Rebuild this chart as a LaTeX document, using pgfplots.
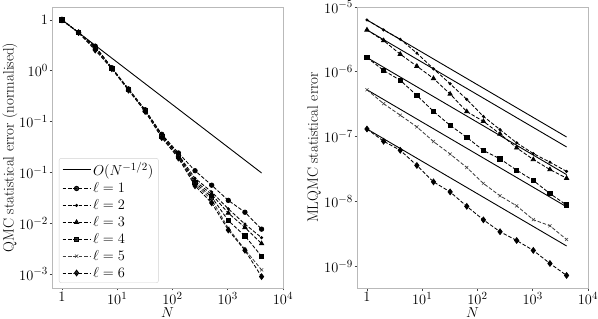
\documentclass[border=0pt]{standalone}
\usepackage{pgfplots}
\pgfplotsset{compat=1.18}
\usepackage{pgfplotstable}

\pgfplotstableread{
N l1 l2 l3 l4 l5 l6
1 1 1 1 1 1 1
2 0.708 0.708 0.708 0.708 0.708 0.708
4 0.49 0.48 0.47 0.46 0.45 0.44
8 0.272 0.270 0.269 0.268 0.266 0.265
16 0.153 0.152 0.151 0.150 0.149 0.148
32 0.087 0.086 0.085 0.085 0.084 0.083
64 0.0447 0.0437 0.0430 0.0422 0.0414 0.0407
128 0.0269 0.0257 0.0251 0.0245 0.0240 0.0234
256 0.0166 0.0135 0.0126 0.0120 0.0115 0.0110
512 0.0112 0.00933 0.00871 0.00813 0.00759 0.00692
1024 0.00741 0.00589 0.00525 0.00427 0.00347 0.00331
2048 0.00537 0.00389 0.00355 0.00282 0.00195 0.00191
4096 0.00339 0.00269 0.00229 0.00162 0.00112 0.000933
}\qmc

\pgfplotstableread{
N l2 l3 l4 l5 l6
1 6.31e-6 4.43e-6 1.66e-6 5.28e-7 1.31e-7
2 4.43e-6 3.03e-6 1.05e-6 3.22e-7 8.47e-8
4 3.18e-6 1.87e-6 7.40e-7 2.14e-7 6.15e-8
8 1.94e-6 1.22e-6 4.31e-7 1.41e-7 3.58e-8
16 1.11e-6 7.89e-7 2.45e-7 8.38e-8 2.00e-8
32 6.53e-7 4.54e-7 1.49e-7 5.38e-8 1.40e-8
64 3.75e-7 2.43e-7 9.75e-8 3.33e-8 8.38e-9
128 2.05e-7 1.72e-7 6.10e-8 1.89e-8 5.19e-9
256 1.28e-7 1.10e-7 4.54e-8 1.22e-8 3.40e-9
512 8.0e-8 6.70e-8 3.03e-8 8.53e-9 2.49e-9
1024 5.47e-8 4.43e-8 2.10e-8 5.22e-9 1.75e-9
2048 4.03e-8 3.10e-8 1.32e-8 4.20e-9 1.10e-9
4096 2.9e-8 2.28e-8 8.77e-9 2.58e-9 7.19e-10
}\mlqmc

\pgfplotstableread{
N r2 r3 r4 r5 r6
1 6.31e-6 4.43e-6 1.66e-6 5.28e-7 1.31e-7
4096 9.86e-8 6.92e-8 2.59e-8 8.25e-9 2.05e-9
}\mlref

\newcommand{\fs}{\fontsize{15}{18}\selectfont}

\pgfplotsset{
  myaxis/.style={
    scale only axis, width=231pt, height=281pt,
    xmin=0.66, xmax=10000,
    xtick={1,10,100,1000,10000},
    xticklabels={$1$,$10^{1}$,$10^{2}$,$10^{3}$,$10^{4}$},
    minor tick style={draw=none},
    tick pos=left, tick align=outside,
    major tick length=2.5pt,
    tick style={black!75, line width=0.6pt},
    axis line style={gray!55, line width=0.8pt},
    tick label style={font=\fs},
    xticklabel style={inner sep=1.5pt},
    yticklabel style={inner sep=1.5pt},
    xlabel={$N$},
    every axis x label/.style={at={(axis description cs:0.5,-0.086)}, anchor=center, font=\fs, inner sep=0pt},
  },
  dsh/.style={black, line width=0.85pt, dash pattern=on 3.6pt off 1.8pt},
  mk/.style={mark options={solid}},
}

\begin{document}
\begin{tikzpicture}
\path[use as bounding box] (0,0) rectangle (598pt,319pt);

\begin{loglogaxis}[myaxis,
  at={(52pt,31pt)}, anchor=south west,
  ymin=6.85e-4, ymax=1.42,
  ytick={1,0.251189,0.0630957,0.0158489,0.00398107,0.001},
  yticklabels={$1$,$10^{0}$,$10^{-1}$,$10^{-1}$,$10^{-2}$,$10^{-3}$},
  ylabel={QMC statistical error (normalised)},
  every axis y label/.style={at={(axis description cs:-0.182,0.5)}, rotate=90, anchor=center, font=\fs},
  legend cell align=left,
  legend style={font=\fs, at={(axis description cs:0.03,0.018)}, anchor=south west,
    draw=gray!35, rounded corners=2pt, fill=white, fill opacity=0.8, text opacity=1,
    row sep=1.4pt, inner xsep=3pt, inner ysep=2pt},
  legend image code/.code={\draw[mark repeat=2,mark phase=2,#1] plot coordinates {(0pt,0pt) (14pt,0pt) (28pt,0pt)};},
]
\addplot[black, line width=0.9pt, mark=none] coordinates {(1,1) (4096,0.015625)};
\addlegendentry{$O(N^{-1/2})$}
\addplot[dsh, mark=*, mark size=2.2pt, mk] table[x=N, y=l1] {\qmc};
\addlegendentry{$\ell=1$}
\addplot[dsh, mark=*, mark size=1.1pt, mk] table[x=N, y=l2] {\qmc};
\addlegendentry{$\ell=2$}
\addplot[dsh, mark=triangle*, mark size=2.4pt, mk] table[x=N, y=l3] {\qmc};
\addlegendentry{$\ell=3$}
\addplot[dsh, mark=square*, mark size=2.2pt, mk] table[x=N, y=l4] {\qmc};
\addlegendentry{$\ell=4$}
\addplot[dsh, draw=black!75, mark=x, mark size=2.2pt, mark options={solid, line width=0.5pt}] table[x=N, y=l5] {\qmc};
\addlegendentry{$\ell=5$}
\addplot[dsh, mark=diamond*, mark size=2.8pt, mk] table[x=N, y=l6] {\qmc};
\addlegendentry{$\ell=6$}
\end{loglogaxis}

\begin{loglogaxis}[myaxis,
  at={(357pt,31pt)}, anchor=south west,
  ymin=4.6e-10, ymax=1e-5,
  ytick={1e-9,1e-8,1e-7,1e-6,1e-5},
  yticklabels={$10^{-9}$,$10^{-8}$,$10^{-7}$,$10^{-6}$,$10^{-5}$},
  ylabel={MLQMC statistical error},
  every axis y label/.style={at={(axis description cs:-0.186,0.5)}, rotate=90, anchor=center, font=\fs},
]
\addplot[black, line width=0.9pt, mark=none] table[x=N, y=r2] {\mlref};
\addplot[black, line width=0.9pt, mark=none] table[x=N, y=r3] {\mlref};
\addplot[black, line width=0.9pt, mark=none] table[x=N, y=r4] {\mlref};
\addplot[black, line width=0.9pt, mark=none] table[x=N, y=r5] {\mlref};
\addplot[black, line width=0.9pt, mark=none] table[x=N, y=r6] {\mlref};
\addplot[dsh, mark=*, mark size=1.1pt, mk] table[x=N, y=l2] {\mlqmc};
\addplot[dsh, mark=triangle*, mark size=2.4pt, mk] table[x=N, y=l3] {\mlqmc};
\addplot[dsh, mark=square*, mark size=2.2pt, mk] table[x=N, y=l4] {\mlqmc};
\addplot[dsh, draw=black!75, mark=x, mark size=2.2pt, mark options={solid, line width=0.5pt}] table[x=N, y=l5] {\mlqmc};
\addplot[dsh, mark=diamond*, mark size=2.8pt, mk] table[x=N, y=l6] {\mlqmc};
\end{loglogaxis}
\end{tikzpicture}
\end{document}
